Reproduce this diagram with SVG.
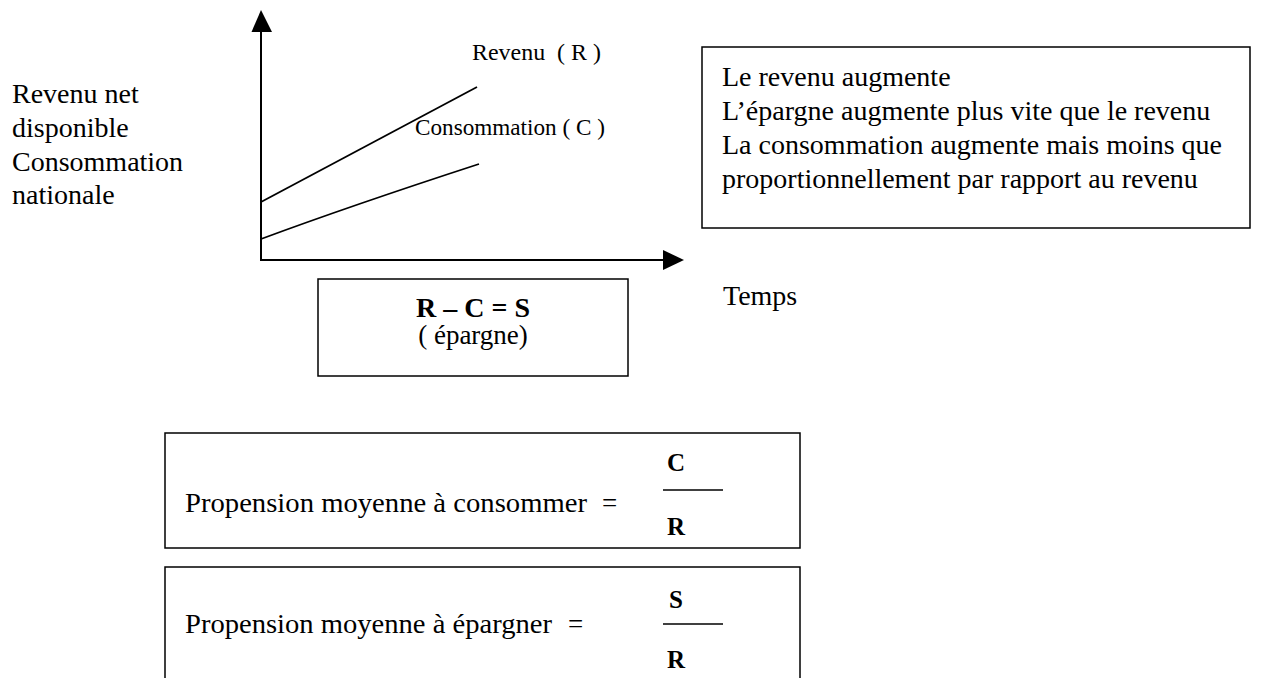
<svg xmlns="http://www.w3.org/2000/svg" width="1271" height="678" viewBox="0 0 1271 678">
  <style>
    .t { font-family: "Liberation Serif", "Times New Roman", serif; fill: #000; }
    .b { font-weight: bold; }
    .box { fill: #fff; stroke: #000; stroke-width: 1.5; }
    .ax { stroke: #000; stroke-width: 2; fill: none; }
    .ln { stroke: #000; stroke-width: 1.8; fill: none; }
    .fr { stroke: #000; stroke-width: 1.5; }
  </style>
  <rect width="1271" height="678" fill="#fff"/>

  <!-- vertical axis label -->
  <g id="y-label" class="t" font-size="28">
    <text x="12" y="103">Revenu net</text>
    <text x="12" y="137">disponible</text>
    <text x="12" y="171">Consommation</text>
    <text x="12" y="204">nationale</text>
  </g>

  <!-- axes and income / consumption curves -->
  <g id="connectors">
    <line class="ax" x1="261" y1="30" x2="261" y2="260"/>
    <polygon points="261,10 251.5,32 272,32" fill="#000"/>
    <line class="ax" x1="260" y1="260" x2="665" y2="260"/>
    <polygon points="684,260 663,250 663,270" fill="#000"/>
    <line class="ln" x1="261" y1="202" x2="477" y2="87"/>
    <path class="ln" d="M261,239 Q350,206 479,164"/>
  </g>

  <g id="curve-labels" class="t" font-size="23">
    <text x="472" y="60" xml:space="preserve" textLength="129" lengthAdjust="spacingAndGlyphs">Revenu  ( R )</text>
    <text x="415" y="135" textLength="190" lengthAdjust="spacingAndGlyphs">Consommation ( C )</text>
  </g>

  <g id="x-label" class="t" font-size="28">
    <text x="723" y="305">Temps</text>
  </g>

  <!-- summary of the trends -->
  <g id="trend-note">
    <rect class="box" x="702" y="47" width="548" height="181"/>
    <g class="t" font-size="28">
      <text x="722" y="86">Le revenu augmente</text>
      <text x="722" y="120">L’épargne augmente plus vite que le revenu</text>
      <text x="722" y="154">La consommation augmente mais moins que</text>
      <text x="722" y="188">proportionnellement par rapport au revenu</text>
    </g>
  </g>

  <!-- savings identity -->
  <g id="savings">
    <rect class="box" x="318" y="279" width="310" height="97"/>
    <text class="t b" x="473" y="317" font-size="28" text-anchor="middle">R – C = S</text>
    <text class="t" x="473" y="344" font-size="27" text-anchor="middle">( épargne)</text>
  </g>

  <!-- average propensity to consume -->
  <g id="apc">
    <rect class="box" x="165" y="433" width="635" height="115"/>
    <text class="t" x="185" y="512" font-size="27" textLength="402" lengthAdjust="spacingAndGlyphs">Propension moyenne à consommer</text>
    <text class="t" x="602" y="512" font-size="27">=</text>
    <text class="t b" x="676" y="471" font-size="25" text-anchor="middle">C</text>
    <line class="fr" x1="663" y1="490" x2="723" y2="490"/>
    <text class="t b" x="676" y="535" font-size="25" text-anchor="middle">R</text>
  </g>

  <!-- average propensity to save -->
  <g id="aps">
    <rect class="box" x="165" y="567" width="635" height="120"/>
    <text class="t" x="185" y="633" font-size="27" textLength="367" lengthAdjust="spacingAndGlyphs">Propension moyenne à épargner</text>
    <text class="t" x="568" y="633" font-size="27">=</text>
    <text class="t b" x="676" y="608" font-size="25" text-anchor="middle">S</text>
    <line class="fr" x1="663" y1="624" x2="723" y2="624"/>
    <text class="t b" x="676" y="668" font-size="25" text-anchor="middle">R</text>
  </g>
</svg>
